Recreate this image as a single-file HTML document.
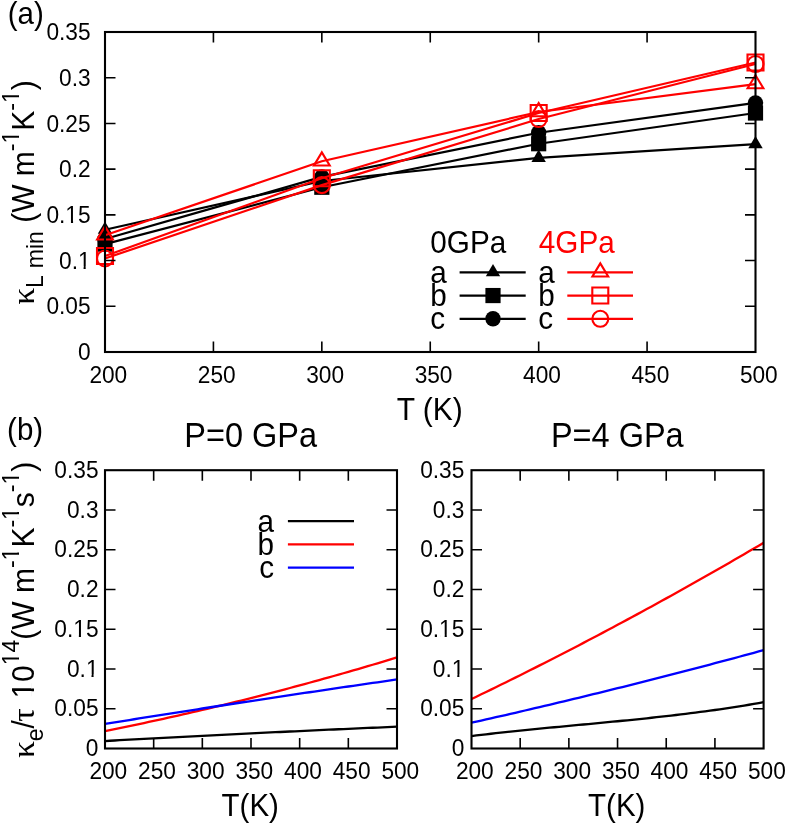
<!DOCTYPE html>
<html><head><meta charset="utf-8"><style>
html,body{margin:0;padding:0;background:#fff;width:787px;height:824px;overflow:hidden;position:relative}
svg text{font-family:"Liberation Sans", sans-serif}
svg{will-change:transform}
</style></head><body>
<svg width="787" height="824" viewBox="0 0 787 824" style="position:absolute;left:0;top:0"><rect width="787" height="824" fill="#fff"/><polyline points="105.00,229.76 321.83,181.03 538.67,157.90 755.50,144.18" fill="none" stroke="#000" stroke-width="2.2" stroke-linejoin="round"/><path d="M105.00 221.46L112.20 233.76L97.80 233.76Z" fill="#000"/><path d="M321.83 172.73L329.03 185.03L314.63 185.03Z" fill="#000"/><path d="M538.67 149.60L545.87 161.90L531.47 161.90Z" fill="#000"/><path d="M755.50 135.88L762.70 148.18L748.30 148.18Z" fill="#000"/><polyline points="105.00,244.11 321.83,187.25 538.67,143.73 755.50,113.01" fill="none" stroke="#000" stroke-width="2.2" stroke-linejoin="round"/><path d="M97.40 236.51H112.60V251.71H97.40Z" fill="#000"/><path d="M314.23 179.65H329.43V194.85H314.23Z" fill="#000"/><path d="M531.07 136.13H546.27V151.33H531.07Z" fill="#000"/><path d="M747.90 105.41H763.10V120.61H747.90Z" fill="#000"/><polyline points="105.00,238.99 321.83,176.91 538.67,132.75 755.50,102.86" fill="none" stroke="#000" stroke-width="2.2" stroke-linejoin="round"/><circle cx="105.00" cy="238.99" r="7.7" fill="#000"/><circle cx="321.83" cy="176.91" r="7.7" fill="#000"/><circle cx="538.67" cy="132.75" r="7.7" fill="#000"/><circle cx="755.50" cy="102.86" r="7.7" fill="#000"/><polyline points="105.00,235.25 321.83,161.28 538.67,112.00 755.50,84.11" fill="none" stroke="#ff0000" stroke-width="2.2" stroke-linejoin="round"/><path d="M105.00 226.35L112.90 239.45L97.10 239.45Z" fill="none" stroke="#ff0000" stroke-width="2.1"/><path d="M321.83 152.38L329.73 165.48L313.93 165.48Z" fill="none" stroke="#ff0000" stroke-width="2.1"/><path d="M538.67 103.10L546.57 116.20L530.77 116.20Z" fill="none" stroke="#ff0000" stroke-width="2.1"/><path d="M755.50 75.21L763.40 88.31L747.60 88.31Z" fill="none" stroke="#ff0000" stroke-width="2.1"/><polyline points="105.00,256.00 321.83,178.29 538.67,113.01 755.50,62.54" fill="none" stroke="#ff0000" stroke-width="2.2" stroke-linejoin="round"/><path d="M97.00 248.00H113.00V264.00H97.00Z" fill="none" stroke="#ff0000" stroke-width="2.1"/><path d="M313.83 170.29H329.83V186.29H313.83Z" fill="none" stroke="#ff0000" stroke-width="2.1"/><path d="M530.67 105.01H546.67V121.01H530.67Z" fill="none" stroke="#ff0000" stroke-width="2.1"/><path d="M747.50 54.54H763.50V70.54H747.50Z" fill="none" stroke="#ff0000" stroke-width="2.1"/><polyline points="105.00,258.47 321.83,185.14 538.67,119.04 755.50,64.00" fill="none" stroke="#ff0000" stroke-width="2.2" stroke-linejoin="round"/><circle cx="105.00" cy="258.47" r="8.0" fill="none" stroke="#ff0000" stroke-width="2.1"/><circle cx="321.83" cy="185.14" r="8.0" fill="none" stroke="#ff0000" stroke-width="2.1"/><circle cx="538.67" cy="119.04" r="8.0" fill="none" stroke="#ff0000" stroke-width="2.1"/><circle cx="755.50" cy="64.00" r="8.0" fill="none" stroke="#ff0000" stroke-width="2.1"/><path d="M213.42 352.00V341.50M213.42 32.00V42.50M321.83 352.00V341.50M321.83 32.00V42.50M430.25 352.00V341.50M430.25 32.00V42.50M538.67 352.00V341.50M538.67 32.00V42.50M647.08 352.00V341.50M647.08 32.00V42.50M105.00 306.29H115.50M755.50 306.29H745.00M105.00 260.57H115.50M755.50 260.57H745.00M105.00 214.86H115.50M755.50 214.86H745.00M105.00 169.14H115.50M755.50 169.14H745.00M105.00 123.43H115.50M755.50 123.43H745.00M105.00 77.71H115.50M755.50 77.71H745.00" stroke="#000" stroke-width="1.6" fill="none"/><rect x="105.0" y="32.0" width="650.5" height="320.0" fill="none" stroke="#000" stroke-width="2.1"/><text transform="translate(90.6,360.10) scale(1,1.06)" text-anchor="end" font-size="22.7">0</text><text transform="translate(90.6,314.39) scale(1,1.06)" text-anchor="end" font-size="22.7">0.05</text><text transform="translate(90.6,268.67) scale(1,1.06)" text-anchor="end" font-size="22.7">0.1</text><text transform="translate(90.6,222.96) scale(1,1.06)" text-anchor="end" font-size="22.7">0.15</text><text transform="translate(90.6,177.24) scale(1,1.06)" text-anchor="end" font-size="22.7">0.2</text><text transform="translate(90.6,131.53) scale(1,1.06)" text-anchor="end" font-size="22.7">0.25</text><text transform="translate(90.6,85.81) scale(1,1.06)" text-anchor="end" font-size="22.7">0.3</text><text transform="translate(90.6,40.10) scale(1,1.06)" text-anchor="end" font-size="22.7">0.35</text><text transform="translate(108.30,382.8) scale(1,1.06)" text-anchor="middle" font-size="22.7">200</text><text transform="translate(216.72,382.8) scale(1,1.06)" text-anchor="middle" font-size="22.7">250</text><text transform="translate(325.13,382.8) scale(1,1.06)" text-anchor="middle" font-size="22.7">300</text><text transform="translate(433.55,382.8) scale(1,1.06)" text-anchor="middle" font-size="22.7">350</text><text transform="translate(541.97,382.8) scale(1,1.06)" text-anchor="middle" font-size="22.7">400</text><text transform="translate(650.38,382.8) scale(1,1.06)" text-anchor="middle" font-size="22.7">450</text><text transform="translate(758.80,382.8) scale(1,1.06)" text-anchor="middle" font-size="22.7">500</text><text transform="translate(430.3,252.7) scale(1,1.06)" font-size="29.7">0GPa</text><text transform="translate(538.8,252.7) scale(1,1.06)" font-size="29.7" fill="#ff0000">4GPa</text><text transform="translate(430.2,282.80) scale(1,1.06)" font-size="29.7">a</text><text transform="translate(538.2,282.80) scale(1,1.06)" font-size="29.7">a</text><path d="M459.6 272.30H525.7" stroke="#000" stroke-width="2.2"/><path d="M493.00 264.00L500.20 276.30L485.80 276.30Z" fill="#000"/><path d="M567.3 272.30H633" stroke="#ff0000" stroke-width="2.2"/><path d="M600.30 263.40L608.20 276.50L592.40 276.50Z" fill="none" stroke="#ff0000" stroke-width="2.1"/><text transform="translate(430.2,306.05) scale(1,1.06)" font-size="29.7">b</text><text transform="translate(538.2,306.05) scale(1,1.06)" font-size="29.7">b</text><path d="M459.6 295.55H525.7" stroke="#000" stroke-width="2.2"/><path d="M485.40 287.95H500.60V303.15H485.40Z" fill="#000"/><path d="M567.3 295.55H633" stroke="#ff0000" stroke-width="2.2"/><path d="M592.30 287.55H608.30V303.55H592.30Z" fill="none" stroke="#ff0000" stroke-width="2.1"/><text transform="translate(430.2,329.30) scale(1,1.06)" font-size="29.7">c</text><text transform="translate(538.2,329.30) scale(1,1.06)" font-size="29.7">c</text><path d="M459.6 318.80H525.7" stroke="#000" stroke-width="2.2"/><circle cx="493.00" cy="318.80" r="7.7" fill="#000"/><path d="M567.3 318.80H633" stroke="#ff0000" stroke-width="2.2"/><circle cx="600.30" cy="318.80" r="8.0" fill="none" stroke="#ff0000" stroke-width="2.1"/><text transform="translate(429.7,419.8) scale(1,1.06)" text-anchor="middle" font-size="30">T (K)</text><text transform="translate(7.7,23.8) scale(1,1.06)" font-size="29.5">(a)</text><text transform="translate(7.1,440.2) scale(1,1.06)" font-size="29.5">(b)</text><text transform="translate(33.8,192.5) rotate(-90) scale(1,1.06)" text-anchor="middle" font-size="30"><tspan dy="0.00" font-family="Liberation Serif" font-size="29.5" fill="transparent" letter-spacing="1.8">κ</tspan><tspan dy="8.30" font-size="23" word-spacing="1.6">L min</tspan><tspan dy="-8.30" font-size="30"> (W m</tspan><tspan dy="-13.87" font-size="23">-1</tspan><tspan dy="13.87" font-size="30">K</tspan><tspan dy="-13.87" font-size="23">-1</tspan><tspan dy="13.87" font-size="30">)</tspan></text><text transform="translate(33.8,609.8) rotate(-90) scale(1,1.06)" text-anchor="middle" font-size="30"><tspan dy="0.00" font-family="Liberation Serif" font-size="29.5" fill="transparent" letter-spacing="1.8">κ</tspan><tspan dy="8.30" font-size="23">e</tspan><tspan dy="-8.30" font-size="30">/</tspan><tspan dy="0.00" font-family="Liberation Serif" font-size="29.5" fill="transparent" letter-spacing="1.3">τ</tspan><tspan dy="0.00" font-size="30"> 10</tspan><tspan dy="-13.87" font-size="23">14</tspan><tspan dy="13.87" font-size="30">(W m</tspan><tspan dy="-13.87" font-size="23">-1</tspan><tspan dy="13.87" font-size="30">K</tspan><tspan dy="-13.87" font-size="23">-1</tspan><tspan dy="13.87" font-size="30">s</tspan><tspan dy="-13.87" font-size="23">-1</tspan><tspan dy="13.87" font-size="30">)</tspan></text><polyline points="105.00,741.03 109.87,740.76 114.73,740.49 119.60,740.22 124.47,739.95 129.33,739.69 134.20,739.42 139.07,739.16 143.93,738.90 148.80,738.64 153.67,738.38 158.53,738.12 163.40,737.86 168.27,737.60 173.13,737.34 178.00,737.09 182.87,736.84 187.73,736.58 192.60,736.33 197.47,736.08 202.33,735.83 207.20,735.58 212.07,735.33 216.93,735.09 221.80,734.84 226.67,734.60 231.53,734.35 236.40,734.11 241.27,733.87 246.13,733.63 251.00,733.39 255.87,733.15 260.73,732.92 265.60,732.68 270.47,732.45 275.33,732.21 280.20,731.98 285.07,731.75 289.93,731.52 294.80,731.29 299.67,731.06 304.53,730.83 309.40,730.61 314.27,730.38 319.13,730.16 324.00,729.93 328.87,729.71 333.73,729.49 338.60,729.27 343.47,729.05 348.33,728.83 353.20,728.62 358.07,728.40 362.93,728.19 367.80,727.97 372.67,727.76 377.53,727.55 382.40,727.34 387.27,727.13 392.13,726.92 397.00,726.71" fill="none" stroke="#000" stroke-width="2.3" stroke-linejoin="round"/><polyline points="105.00,731.09 109.87,730.11 114.73,729.12 119.60,728.13 124.47,727.13 129.33,726.12 134.20,725.10 139.07,724.07 143.93,723.03 148.80,721.99 153.67,720.94 158.53,719.87 163.40,718.80 168.27,717.72 173.13,716.64 178.00,715.54 182.87,714.44 187.73,713.32 192.60,712.20 197.47,711.07 202.33,709.94 207.20,708.79 212.07,707.63 216.93,706.47 221.80,705.30 226.67,704.12 231.53,702.93 236.40,701.73 241.27,700.53 246.13,699.31 251.00,698.09 255.87,696.86 260.73,695.62 265.60,694.37 270.47,693.11 275.33,691.85 280.20,690.57 285.07,689.29 289.93,688.00 294.80,686.70 299.67,685.39 304.53,684.08 309.40,682.75 314.27,681.42 319.13,680.08 324.00,678.73 328.87,677.37 333.73,676.00 338.60,674.62 343.47,673.24 348.33,671.85 353.20,670.45 358.07,669.04 362.93,667.62 367.80,666.19 372.67,664.76 377.53,663.31 382.40,661.86 387.27,660.40 392.13,658.93 397.00,657.46" fill="none" stroke="#ff0000" stroke-width="2.3" stroke-linejoin="round"/><polyline points="105.00,723.93 109.87,723.14 114.73,722.36 119.60,721.58 124.47,720.80 129.33,720.02 134.20,719.24 139.07,718.47 143.93,717.69 148.80,716.92 153.67,716.15 158.53,715.38 163.40,714.61 168.27,713.84 173.13,713.08 178.00,712.31 182.87,711.55 187.73,710.79 192.60,710.03 197.47,709.27 202.33,708.51 207.20,707.76 212.07,707.00 216.93,706.25 221.80,705.50 226.67,704.75 231.53,704.01 236.40,703.26 241.27,702.51 246.13,701.77 251.00,701.03 255.87,700.29 260.73,699.55 265.60,698.81 270.47,698.08 275.33,697.34 280.20,696.61 285.07,695.88 289.93,695.15 294.80,694.42 299.67,693.70 304.53,692.97 309.40,692.25 314.27,691.53 319.13,690.81 324.00,690.09 328.87,689.37 333.73,688.65 338.60,687.94 343.47,687.23 348.33,686.51 353.20,685.80 358.07,685.10 362.93,684.39 367.80,683.68 372.67,682.98 377.53,682.28 382.40,681.58 387.27,680.88 392.13,680.18 397.00,679.48" fill="none" stroke="#0000ff" stroke-width="2.3" stroke-linejoin="round"/><path d="M153.67 748.50V738.00M153.67 470.20V480.70M202.33 748.50V738.00M202.33 470.20V480.70M251.00 748.50V738.00M251.00 470.20V480.70M299.67 748.50V738.00M299.67 470.20V480.70M348.33 748.50V738.00M348.33 470.20V480.70M105.00 708.74H115.50M397.00 708.74H386.50M105.00 668.99H115.50M397.00 668.99H386.50M105.00 629.23H115.50M397.00 629.23H386.50M105.00 589.47H115.50M397.00 589.47H386.50M105.00 549.71H115.50M397.00 549.71H386.50M105.00 509.96H115.50M397.00 509.96H386.50" stroke="#000" stroke-width="1.6" fill="none"/><rect x="105.0" y="470.2" width="292.00" height="278.30" fill="none" stroke="#000" stroke-width="2.1"/><text transform="translate(98.5,756.10) scale(1,1.06)" text-anchor="end" font-size="22.7">0</text><text transform="translate(98.5,716.34) scale(1,1.06)" text-anchor="end" font-size="22.7">0.05</text><text transform="translate(98.5,676.59) scale(1,1.06)" text-anchor="end" font-size="22.7">0.1</text><text transform="translate(98.5,636.83) scale(1,1.06)" text-anchor="end" font-size="22.7">0.15</text><text transform="translate(98.5,597.07) scale(1,1.06)" text-anchor="end" font-size="22.7">0.2</text><text transform="translate(98.5,557.31) scale(1,1.06)" text-anchor="end" font-size="22.7">0.25</text><text transform="translate(98.5,517.56) scale(1,1.06)" text-anchor="end" font-size="22.7">0.3</text><text transform="translate(98.5,477.80) scale(1,1.06)" text-anchor="end" font-size="22.7">0.35</text><text transform="translate(108.30,779.1) scale(1,1.06)" text-anchor="middle" font-size="22.7">200</text><text transform="translate(156.97,779.1) scale(1,1.06)" text-anchor="middle" font-size="22.7">250</text><text transform="translate(205.63,779.1) scale(1,1.06)" text-anchor="middle" font-size="22.7">300</text><text transform="translate(254.30,779.1) scale(1,1.06)" text-anchor="middle" font-size="22.7">350</text><text transform="translate(302.97,779.1) scale(1,1.06)" text-anchor="middle" font-size="22.7">400</text><text transform="translate(351.63,779.1) scale(1,1.06)" text-anchor="middle" font-size="22.7">450</text><text transform="translate(400.30,779.1) scale(1,1.06)" text-anchor="middle" font-size="22.7">500</text><text transform="translate(250.6,446.6) scale(1,1.06)" text-anchor="middle" font-size="32.5">P=0 GPa</text><text transform="translate(250.20,815.6) scale(1,1.06)" text-anchor="middle" font-size="29.5">T(K)</text><polyline points="471.50,736.04 476.37,735.45 481.24,734.87 486.11,734.31 490.97,733.75 495.84,733.20 500.71,732.67 505.58,732.14 510.45,731.62 515.32,731.11 520.18,730.61 525.05,730.12 529.92,729.63 534.79,729.14 539.66,728.66 544.52,728.19 549.39,727.72 554.26,727.25 559.13,726.79 564.00,726.33 568.87,725.87 573.74,725.41 578.60,724.95 583.47,724.50 588.34,724.04 593.21,723.58 598.08,723.12 602.95,722.65 607.81,722.19 612.68,721.71 617.55,721.24 622.42,720.76 627.29,720.28 632.15,719.79 637.02,719.29 641.89,718.79 646.76,718.27 651.63,717.75 656.50,717.23 661.37,716.69 666.23,716.14 671.10,715.58 675.97,715.01 680.84,714.43 685.71,713.84 690.58,713.23 695.44,712.62 700.31,711.98 705.18,711.33 710.05,710.67 714.92,709.99 719.79,709.30 724.65,708.59 729.52,707.86 734.39,707.11 739.26,706.34 744.13,705.56 749.00,704.75 753.86,703.93 758.73,703.08 763.60,702.21" fill="none" stroke="#000" stroke-width="2.3" stroke-linejoin="round"/><polyline points="471.50,699.04 476.37,696.70 481.24,694.34 486.11,691.98 490.97,689.61 495.84,687.22 500.71,684.83 505.58,682.44 510.45,680.03 515.32,677.61 520.18,675.19 525.05,672.75 529.92,670.31 534.79,667.86 539.66,665.40 544.52,662.93 549.39,660.46 554.26,657.97 559.13,655.47 564.00,652.97 568.87,650.46 573.74,647.94 578.60,645.41 583.47,642.87 588.34,640.32 593.21,637.77 598.08,635.20 602.95,632.63 607.81,630.05 612.68,627.46 617.55,624.86 622.42,622.25 627.29,619.63 632.15,617.00 637.02,614.37 641.89,611.73 646.76,609.07 651.63,606.41 656.50,603.74 661.37,601.06 666.23,598.38 671.10,595.68 675.97,592.98 680.84,590.26 685.71,587.54 690.58,584.81 695.44,582.07 700.31,579.32 705.18,576.56 710.05,573.80 714.92,571.02 719.79,568.24 724.65,565.45 729.52,562.65 734.39,559.84 739.26,557.02 744.13,554.19 749.00,551.36 753.86,548.51 758.73,545.66 763.60,542.80" fill="none" stroke="#ff0000" stroke-width="2.3" stroke-linejoin="round"/><polyline points="471.50,722.74 476.37,721.64 481.24,720.55 486.11,719.45 490.97,718.34 495.84,717.23 500.71,716.12 505.58,715.01 510.45,713.88 515.32,712.76 520.18,711.63 525.05,710.50 529.92,709.36 534.79,708.22 539.66,707.08 544.52,705.93 549.39,704.78 554.26,703.62 559.13,702.46 564.00,701.30 568.87,700.13 573.74,698.96 578.60,697.78 583.47,696.60 588.34,695.42 593.21,694.23 598.08,693.04 602.95,691.84 607.81,690.64 612.68,689.44 617.55,688.23 622.42,687.02 627.29,685.80 632.15,684.58 637.02,683.36 641.89,682.13 646.76,680.90 651.63,679.66 656.50,678.42 661.37,677.18 666.23,675.93 671.10,674.68 675.97,673.42 680.84,672.16 685.71,670.90 690.58,669.63 695.44,668.36 700.31,667.08 705.18,665.81 710.05,664.52 714.92,663.23 719.79,661.94 724.65,660.65 729.52,659.35 734.39,658.04 739.26,656.74 744.13,655.43 749.00,654.11 753.86,652.79 758.73,651.47 763.60,650.14" fill="none" stroke="#0000ff" stroke-width="2.3" stroke-linejoin="round"/><path d="M520.18 748.50V738.00M520.18 470.20V480.70M568.87 748.50V738.00M568.87 470.20V480.70M617.55 748.50V738.00M617.55 470.20V480.70M666.23 748.50V738.00M666.23 470.20V480.70M714.92 748.50V738.00M714.92 470.20V480.70M471.50 708.74H482.00M763.60 708.74H753.10M471.50 668.99H482.00M763.60 668.99H753.10M471.50 629.23H482.00M763.60 629.23H753.10M471.50 589.47H482.00M763.60 589.47H753.10M471.50 549.71H482.00M763.60 549.71H753.10M471.50 509.96H482.00M763.60 509.96H753.10" stroke="#000" stroke-width="1.6" fill="none"/><rect x="471.5" y="470.2" width="292.10" height="278.30" fill="none" stroke="#000" stroke-width="2.1"/><text transform="translate(464.3,756.10) scale(1,1.06)" text-anchor="end" font-size="22.7">0</text><text transform="translate(464.3,716.34) scale(1,1.06)" text-anchor="end" font-size="22.7">0.05</text><text transform="translate(464.3,676.59) scale(1,1.06)" text-anchor="end" font-size="22.7">0.1</text><text transform="translate(464.3,636.83) scale(1,1.06)" text-anchor="end" font-size="22.7">0.15</text><text transform="translate(464.3,597.07) scale(1,1.06)" text-anchor="end" font-size="22.7">0.2</text><text transform="translate(464.3,557.31) scale(1,1.06)" text-anchor="end" font-size="22.7">0.25</text><text transform="translate(464.3,517.56) scale(1,1.06)" text-anchor="end" font-size="22.7">0.3</text><text transform="translate(464.3,477.80) scale(1,1.06)" text-anchor="end" font-size="22.7">0.35</text><text transform="translate(474.80,779.1) scale(1,1.06)" text-anchor="middle" font-size="22.7">200</text><text transform="translate(523.48,779.1) scale(1,1.06)" text-anchor="middle" font-size="22.7">250</text><text transform="translate(572.17,779.1) scale(1,1.06)" text-anchor="middle" font-size="22.7">300</text><text transform="translate(620.85,779.1) scale(1,1.06)" text-anchor="middle" font-size="22.7">350</text><text transform="translate(669.53,779.1) scale(1,1.06)" text-anchor="middle" font-size="22.7">400</text><text transform="translate(718.22,779.1) scale(1,1.06)" text-anchor="middle" font-size="22.7">450</text><text transform="translate(766.90,779.1) scale(1,1.06)" text-anchor="middle" font-size="22.7">500</text><text transform="translate(617.3,446.6) scale(1,1.06)" text-anchor="middle" font-size="32.5">P=4 GPa</text><text transform="translate(616.75,815.6) scale(1,1.06)" text-anchor="middle" font-size="29.5">T(K)</text><text transform="translate(274,531.70) scale(1,1.06)" text-anchor="end" font-size="29.7">a</text><path d="M287.9 521.10H354" stroke="#000" stroke-width="2.3"/><text transform="translate(274,555.00) scale(1,1.06)" text-anchor="end" font-size="29.7">b</text><path d="M287.9 544.40H354" stroke="#ff0000" stroke-width="2.3"/><text transform="translate(274,578.30) scale(1,1.06)" text-anchor="end" font-size="29.7">c</text><path d="M287.9 567.70H354" stroke="#0000ff" stroke-width="2.3"/><path transform="translate(90.6,268.67) scale(1,1.06)" d="M-11.50 -1.93H-7.02V0.91H-11.50ZM-4.91 -1.93H-0.03V0.91H-4.91Z" fill="#fff"/><path transform="translate(90.6,222.96) scale(1,1.06)" d="M-24.11 -1.93H-19.64V0.91H-24.11ZM-17.53 -1.93H-12.65V0.91H-17.53Z" fill="#fff"/><text transform="translate(33.8,192.5) rotate(-90) scale(1,1.06) translate(-112.24,0.00) scale(1.14,1)" style="font-family:Liberation Serif" font-size="29.5" fill="#000">κ</text><path transform="translate(33.8,192.5) rotate(-90) scale(1,1.06)" d="M50.14 -15.83H54.67V-12.95H50.14ZM56.81 -15.83H61.76V-12.95H56.81Z" fill="#fff"/><path transform="translate(33.8,192.5) rotate(-90) scale(1,1.06)" d="M90.60 -15.83H95.13V-12.95H90.60ZM97.27 -15.83H102.21V-12.95H97.27Z" fill="#fff"/><text transform="translate(33.8,609.8) rotate(-90) scale(1,1.06) translate(-148.09,0.00) scale(1.14,1)" style="font-family:Liberation Serif" font-size="29.5" fill="#000">κ</text><text transform="translate(33.8,609.8) rotate(-90) scale(1,1.06) translate(-111.88,0.00) scale(1.14,1)" style="font-family:Liberation Serif" font-size="29.5" fill="#000">τ</text><path transform="translate(33.8,609.8) rotate(-90) scale(1,1.06)" d="M-87.31 -2.55H-81.40V1.20H-87.31ZM-78.61 -2.55H-72.16V1.20H-78.61Z" fill="#fff"/><path transform="translate(33.8,609.8) rotate(-90) scale(1,1.06)" d="M-54.29 -15.83H-49.76V-12.95H-54.29ZM-47.62 -15.83H-42.67V-12.95H-47.62Z" fill="#fff"/><path transform="translate(33.8,609.8) rotate(-90) scale(1,1.06)" d="M50.55 -15.83H55.08V-12.95H50.55ZM57.22 -15.83H62.17V-12.95H57.22Z" fill="#fff"/><path transform="translate(33.8,609.8) rotate(-90) scale(1,1.06)" d="M91.01 -15.83H95.54V-12.95H91.01ZM97.68 -15.83H102.62V-12.95H97.68Z" fill="#fff"/><path transform="translate(33.8,609.8) rotate(-90) scale(1,1.06)" d="M126.45 -15.83H130.98V-12.95H126.45ZM133.12 -15.83H138.06V-12.95H133.12Z" fill="#fff"/><path transform="translate(98.5,676.59) scale(1,1.06)" d="M-11.50 -1.93H-7.02V0.91H-11.50ZM-4.91 -1.93H-0.03V0.91H-4.91Z" fill="#fff"/><path transform="translate(98.5,636.83) scale(1,1.06)" d="M-24.11 -1.93H-19.64V0.91H-24.11ZM-17.53 -1.93H-12.65V0.91H-17.53Z" fill="#fff"/><path transform="translate(464.3,676.59) scale(1,1.06)" d="M-11.50 -1.93H-7.02V0.91H-11.50ZM-4.91 -1.93H-0.03V0.91H-4.91Z" fill="#fff"/><path transform="translate(464.3,636.83) scale(1,1.06)" d="M-24.11 -1.93H-19.64V0.91H-24.11ZM-17.53 -1.93H-12.65V0.91H-17.53Z" fill="#fff"/></svg>
</body></html>
